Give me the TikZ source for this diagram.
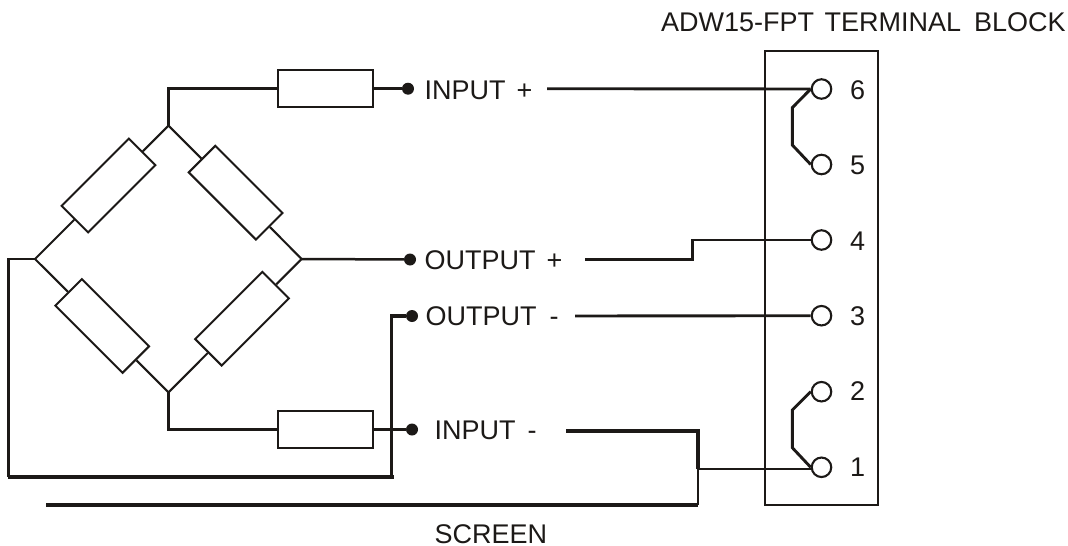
\documentclass[tikz,border=0pt]{standalone}
\usepackage{fontspec}
\setmainfont{Liberation Sans}
\definecolor{ink}{HTML}{1C1917}
\tikzset{
 x=1pt,y=-1pt,
 wire/.style={draw=ink,line width=2.5pt,line join=miter},
 diag/.style={draw=ink,line width=2.1pt},
 sig/.style={draw=ink,line width=2.9pt,line join=miter},
 thick wire/.style={draw=ink,line width=3.8pt,line join=miter},
 res/.style={draw=ink,fill=white,line width=2pt,rectangle,inner sep=0pt,minimum width=95pt,minimum height=37.5pt},
 dot/.style={circle,fill=ink,inner sep=0pt,minimum size=12pt},
 term/.style={circle,draw=ink,fill=white,line width=2.1pt,inner sep=0pt,minimum size=19.5pt},
 lab/.style={anchor=base west,inner sep=0pt,text=ink,font=\fontsize{27}{31}\selectfont}
}
\begin{document}
\begin{tikzpicture}
\useasboundingbox (0,0) rectangle (1068,546);
% bridge corners
\coordinate (top) at (168.5,125.7);
\coordinate (left) at (35,259);
\coordinate (right) at (301.7,259);
\coordinate (bottom) at (168.5,392.3);
% bridge resistors
\node[res,rotate=45] (ul) at (108.5,185.5) {};
\node[res,rotate=-45] (ur) at (235.6,192.7) {};
\node[res,rotate=-45] (ll) at (102.2,326) {};
\node[res,rotate=45] (lr) at (242,318.7) {};
\draw[diag] (top) -- (ul);
\draw[diag] (top) -- (ur);
\draw[diag] (left) -- (ul);
\draw[diag] (right) -- (ur);
\draw[diag] (left) -- (ll);
\draw[diag] (bottom) -- (ll);
\draw[diag] (right) -- (lr);
\draw[diag] (bottom) -- (lr);
% series resistors
\node[res] (rt) at (325.5,88.7) {};
\node[res] (rb) at (325.5,429.5) {};
% dots
\node[dot] (dip) at (408,88.7) {};
\node[dot] (dop) at (410,259.5) {};
\node[dot] (dom) at (412,316) {};
\node[dot] (dim) at (412,429.5) {};
\draw[wire] (top) |- (rt);
\draw[wire] (rt) -- (dip);
\draw[wire] (bottom) |- (rb);
\draw[wire] (rb) -- (dim);
\draw[wire] (right) -- (dop);
% terminal block
\node[draw=ink,line width=2.2pt,rectangle,inner sep=0pt,minimum width=113.3pt,minimum height=454pt] (block) at (821.3,278) {};
\node[term] (t6) at (821.5,89) {};
\node[term] (t5) at (821.5,164.5) {};
\node[term] (t4) at (821.5,240) {};
\node[term] (t3) at (821.5,315.7) {};
\node[term] (t2) at (821.5,391.7) {};
\node[term] (t1) at (821.5,467.3) {};
% labels
\node[lab] (lip) at (424.5,99) {INPUT\hspace{11pt}+};
\node[lab] (lop) at (424.5,269) {OUTPUT\hspace{11pt}+};
\node[lab] (lom) at (425.5,325) {OUTPUT\hspace{13pt}-};
\node[lab] (lim) at (434.5,439) {INPUT\hspace{12pt}-};
\node[lab] (ln6) at (850,99.3) {6};
\node[lab] (ln5) at (850,174.3) {5};
\node[lab] (ln4) at (850,250) {4};
\node[lab] (ln3) at (850,325) {3};
\node[lab] (ln2) at (850,400.7) {2};
\node[lab] (ln1) at (850,476.7) {1};
\node[lab] (ttl) at (661,31.7) {ADW15-FPT\hspace{10.5pt}TERMINAL\hspace{13pt}BLOCK};
\node[lab] (scr) at (434.5,543) {SCREEN};
% free ends
\coordinate (ipStart) at (547,88.7);
\coordinate (opStart) at (585,259.5);
\coordinate (omStart) at (575,316);
\coordinate (imStart) at (566,430.7);
\coordinate (scrStart) at (46,505);
\coordinate (scrCorner) at (698,505);
\coordinate (imCorner) at (698,430.7);
\coordinate (tap) at (698,469);
\coordinate (loopA) at (8.5,259);
\coordinate (loopB) at (8.5,476.7);
\coordinate (loopC) at (391.7,476.7);
\coordinate (loopD) at (391.7,316);
\coordinate (stepA) at (692.3,259.5);
\coordinate (stepB) at (692.3,240);
% signal wires
\draw[sig] (ipStart) -- (t6.west);
\draw[sig] (opStart) -- (stepA) -- (stepB) -- (t4.west);
\draw[sig] (omStart) -- (t3.west);
\draw[wire] (tap) -- (t1.west |- tap);
% jumpers
\draw[sig] (t6.west) -- (792.3,107.7) -- (792.3,145) -- (t5.west);
\draw[sig] (t2.west) -- (792.3,410) -- (792.3,447.7) -- (t1.west);
% cable
\draw[wire] (left) -- (loopA) -- (loopB);
\draw[thick wire,shorten >=-2pt,shorten <=-1pt] (loopB) -- (loopC);
\draw[draw=ink,line width=3.2pt,line join=miter] (loopC) -- (loopD) -- (dom);
\draw[thick wire] (scrStart) -- (scrCorner);
\draw[wire] (scrCorner) -- (tap);
\draw[thick wire] (tap) -- (imCorner) -- (imStart);
\end{tikzpicture}
\end{document}
